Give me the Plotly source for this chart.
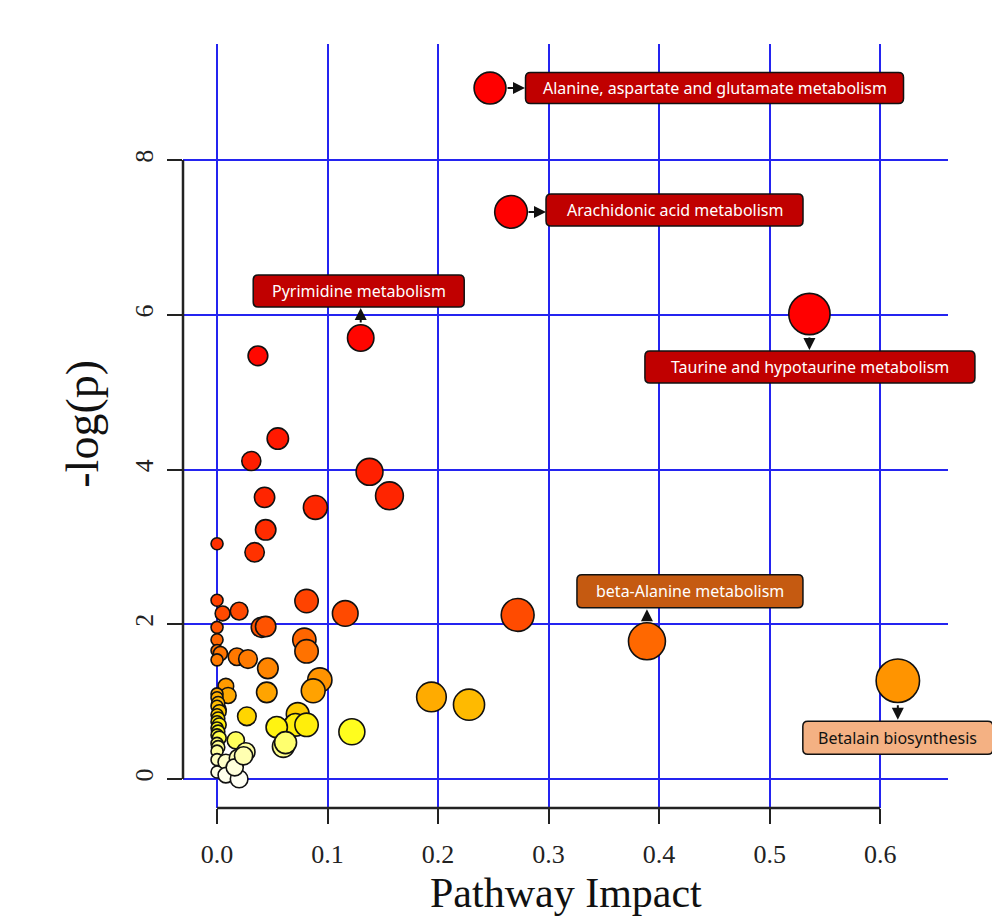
import numpy as np
import plotly.graph_objects as go

# ---------------- data ----------------
labeled_names = [
    "Alanine, aspartate and glutamate metabolism",
    "Arachidonic acid metabolism",
    "Pyrimidine metabolism",
    "Taurine and hypotaurine metabolism",
    "beta-Alanine metabolism",
    "Betalain biosynthesis",
]
labeled_impact = [0.247, 0.266, 0.130, 0.536, 0.389, 0.616]
labeled_neglogp = [8.93, 7.33, 5.70, 6.01, 1.78, 1.27]

other_impact = [
    0.037, 0.055, 0.031, 0.138, 0.043, 0.156, 0.089, 0.044, 0.000, 0.034,
    0.000, 0.081, 0.005, 0.020, 0.116, 0.272, 0.000, 0.040, 0.044, 0.000,
    0.079, 0.081, 0.000, 0.003, 0.000, 0.018, 0.028, 0.046, 0.093, 0.087,
    0.008, 0.010, 0.045, 0.000, 0.194, 0.228, 0.002, 0.027, 0.073, 0.071,
    0.081, 0.054, 0.122, 0.060, 0.062, 0.017,
    0.000, 0.001, 0.000, 0.002, 0.000, 0.001, 0.000, 0.002, 0.000, 0.001,
    0.000, 0.002, 0.000, 0.001, 0.000,
    0.000, 0.008, 0.019, 0.026, 0.000, 0.008, 0.020, 0.016, 0.024,
]
other_neglogp = [
    5.47, 4.40, 4.11, 3.97, 3.64, 3.66, 3.51, 3.22, 3.04, 2.93,
    2.31, 2.30, 2.14, 2.17, 2.14, 2.12, 1.96, 1.96, 1.97, 1.80,
    1.80, 1.65, 1.66, 1.62, 1.54, 1.58, 1.55, 1.43, 1.28, 1.14,
    1.20, 1.08, 1.12, 1.10, 1.06, 0.96, 0.90, 0.81, 0.84, 0.70,
    0.70, 0.67, 0.61, 0.42, 0.47, 0.50,
    1.05, 0.98, 0.94, 0.87, 0.83, 0.78, 0.74, 0.70, 0.66, 0.61,
    0.57, 0.53, 0.46, 0.41, 0.36,
    0.25, 0.22, 0.27, 0.35, 0.09, 0.05, 0.00, 0.15, 0.30,
]

x_ticks = [0.0, 0.1, 0.2, 0.3, 0.4, 0.5, 0.6]
x_ticklabels = ["0.0", "0.1", "0.2", "0.3", "0.4", "0.5", "0.6"]
y_ticks = [0, 2, 4, 6, 8]
y_ticklabels = ["0", "2", "4", "6", "8"]

# ---------------- styling ----------------
heat_scale = [
    [0.00, "#FFFFF4"], [0.03, "#FFFFD6"], [0.07, "#FFFF8C"], [0.10, "#FFFF20"],
    [0.125, "#FFE600"], [0.14, "#FFCC00"], [0.18, "#FFA800"], [0.21, "#FF9500"],
    [0.27, "#FF7400"], [0.30, "#FF6600"], [0.33, "#FF5200"], [0.40, "#FF3E00"],
    [0.55, "#FF2A00"], [0.75, "#FF1800"], [1.00, "#FF0000"],
]

def diam(imp):
    return 12 + 40 * np.sqrt(np.asarray(imp))

all_impact = other_impact + labeled_impact
all_neglogp = other_neglogp + labeled_neglogp
all_names = [""] * len(other_impact) + labeled_names

fig = go.Figure()
fig.add_trace(go.Scatter(
    x=all_impact, y=all_neglogp, mode="markers",
    text=all_names,
    marker=dict(
        size=diam(all_impact),
        color=all_neglogp, colorscale=heat_scale, cmin=0, cmax=6,
        line=dict(color="#111111", width=1.6),
        opacity=1,
    ),
    showlegend=False, hoverinfo="x+y+text",
))

serif = "Liberation Serif, Times New Roman, serif"
sans = "Noto Sans, Open Sans, sans-serif"
grid_blue = "#2424F0"

# page body has an 8px margin, so the figure starts 8px in from the window corner
W, H = 992, 910
L, T = 175, 36
R = W - 940
B = H - 800
plot_h = H - T - B
plot_w = W - L - R
x_range = [-0.0308, 0.6614]
y_range = [-0.375, 9.5]

fig.update_layout(
    width=W, height=H,
    margin=dict(l=L, r=R, t=T, b=B),
    paper_bgcolor="white", plot_bgcolor="white",
    xaxis=dict(
        range=x_range, tickvals=x_ticks, ticktext=x_ticklabels,
        showgrid=True, gridcolor=grid_blue, gridwidth=2, zeroline=False,
        showline=False, ticks="outside", ticklen=15, tickwidth=2, tickcolor="#222",
        tickfont=dict(family=serif, size=26, color="#222"),
        ticklabelstandoff=8,
    ),
    yaxis=dict(
        range=y_range, tickvals=y_ticks, ticktext=y_ticklabels,
        showgrid=True, gridcolor=grid_blue, gridwidth=2, zeroline=False,
        showline=False, ticks="outside", ticklen=15, tickwidth=2, tickcolor="#222",
        tickangle=-90,
        tickfont=dict(family=serif, size=26, color="#222"),
        ticklabelstandoff=4,
    ),
)

# R-style axis lines spanning only tick range
fig.add_shape(type="line", xref="paper", yref="y", x0=0, x1=0, y0=0, y1=8,
              line=dict(color="#222", width=2.5), layer="above")
fig.add_shape(type="line", xref="x", yref="paper", x0=0, x1=0.6, y0=0, y1=0,
              line=dict(color="#222", width=2.5), layer="above")

# axis titles
fig.add_annotation(text="-log(p)", xref="paper", yref="paper",
                   x=-100 / plot_w, y=0.503, xanchor="center", yanchor="middle",
                   textangle=-90, showarrow=False,
                   font=dict(family=serif, size=46, color="#111"))
fig.add_annotation(text="Pathway Impact", xref="paper", yref="paper",
                   x=0.5, y=-(H - 800) / plot_h, xanchor="center", yanchor="bottom",
                   showarrow=False,
                   font=dict(family=serif, size=42, color="#111"))

# label boxes: (xshift, yshift, box width, box height, fill, text color)
box_style = [
    (224.5, 0, 378, 31, "#C00000", "white"),
    (163.5, 2, 257, 32, "#C00000", "white"),
    (-2, 47, 211, 32, "#C00000", "white"),
    (0.5, -53, 330, 32, "#C00000", "white"),
    (43, 50, 226, 33, "#C55A11", "white"),
    (0, -57, 190, 33, "#F4B183", "#111"),
]
# arrows: (xshift, yshift, ax, ay) head at box edge, tail at circle edge
arrow_style = [
    (35, 0, -19, 0),
    (35, 0, -19, 0),
    (0, 30, 0, 16),
    (0, -36, 0, -14),
    (0, 32, 0, 13),
    (0, -39, 0, -16),
]


def rounded_rect(cx, cy, w, h, r=5):
    l, rt = cx - w / 2, cx + w / 2
    b, t = cy - h / 2, cy + h / 2
    return (f"M {l + r},{b} L {rt - r},{b} Q {rt},{b} {rt},{b + r} "
            f"L {rt},{t - r} Q {rt},{t} {rt - r},{t} L {l + r},{t} "
            f"Q {l},{t} {l},{t - r} L {l},{b + r} Q {l},{b} {l + r},{b} Z")


for name, xi, yi, (xs, ys, w, h, fill, tc), (axs, ays, ax, ay) in zip(
        labeled_names, labeled_impact, labeled_neglogp, box_style, arrow_style):
    # paper-referenced anchor (not clipped by the plot area)
    xp = (xi - x_range[0]) / (x_range[1] - x_range[0])
    yp = (yi - y_range[0]) / (y_range[1] - y_range[0])
    fig.add_shape(
        type="path", xref="paper", yref="paper", xsizemode="pixel", ysizemode="pixel",
        xanchor=xp, yanchor=yp, path=rounded_rect(xs, ys, w, h),
        fillcolor=fill, line=dict(color="#111", width=1.5), layer="above",
    )
    fig.add_annotation(
        x=xi, y=yi, xref="x", yref="y", xshift=xs, yshift=ys,
        text=name, showarrow=False,
        font=dict(family=sans, size=16, color=tc),
    )
    fig.add_annotation(
        x=xi, y=yi, xref="x", yref="y", xshift=axs, yshift=ays,
        ax=ax, ay=ay, text="", showarrow=True,
        arrowhead=2, arrowsize=1.2, arrowwidth=2, arrowcolor="#111",
    )

fig.write_html("out.html")
